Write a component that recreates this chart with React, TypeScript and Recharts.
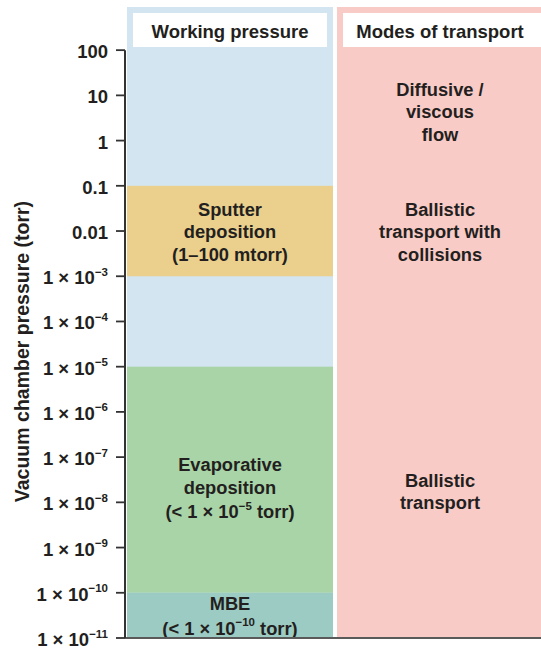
import React from 'react';
import { ComposedChart, Bar, XAxis, YAxis, ReferenceLine, ReferenceDot, Label } from 'recharts';

// ---------- data ----------
const columns = ['Working pressure', 'Modes of transport'];
const columnTop = 900; // torr, top edge of the two column backgrounds
const columnBottom = 1e-11;
const axisTop = 100;

const sputterRange = [1e-3, 0.1];
const evaporativeRange = [1e-10, 1e-5];
const mbeRange = [1e-11, 1e-10];

const sputterLines = ['Sputter', 'deposition', '(1–100 mtorr)'];
const evaporativeLines = ['Evaporative', 'deposition', '(< 1 × 10^−5^ torr)'];
const mbeLines = ['MBE', '(< 1 × 10^−10^ torr)'];

const modeLines = [
  ['Diffusive /', 'viscous', 'flow'],
  ['Ballistic', 'transport with', 'collisions'],
  ['Ballistic', 'transport'],
];
const modeLabelPressures = [4.5, 0.01, 1.8e-8];

const tickValues = [100, 10, 1, 0.1, 0.01, 1e-3, 1e-4, 1e-5, 1e-6, 1e-7, 1e-8, 1e-9, 1e-10, 1e-11];
const tickLabels = [
  '100', '10', '1', '0.1', '0.01',
  '1 × 10^−3', '1 × 10^−4', '1 × 10^−5', '1 × 10^−6', '1 × 10^−7',
  '1 × 10^−8', '1 × 10^−9', '1 × 10^−10', '1 × 10^−11',
];
const yAxisTitle = 'Vacuum chamber pressure (torr)';

const data = columns.map((col, i) => ({
  col,
  background: [columnBottom, columnTop],
  sputter: i === 0 ? sputterRange : null,
  evaporative: i === 0 ? evaporativeRange : null,
  mbe: i === 0 ? mbeRange : null,
}));

// ---------- styles ----------
const FONT = '"Liberation Sans", Arial, Helvetica, sans-serif';
const INK = '#231f20';
const FS = 18.3;
const LINE_H = 22.5;
const SUP_EXTRA = 2;
const columnFills: Record<string, string> = {
  'Working pressure': '#D3E5F1',
  'Modes of transport': '#F9CBC6',
};
const headerInsetRight: Record<string, number> = {
  'Working pressure': 6,
  'Modes of transport': 0,
};
const SPUTTER = '#EBCF8D';
const EVAP = '#A9D4A7';
const MBE = '#9CCBC3';

function RichText({ x, y, text, fontSize = FS, anchor = 'middle' }: any) {
  const parts = String(text).split('^');
  const supSize = 11.5;
  const shift = 5.5;
  const kids: any[] = [];
  let inSup = false;
  parts.forEach((p, i) => {
    const sup = i % 2 === 1;
    let dy = 0;
    if (sup && !inSup) dy = -shift;
    if (!sup && inSup) dy = shift;
    inSup = sup;
    if (p === '' && dy === 0) return;
    kids.push(
      <tspan key={i} fontSize={sup ? supSize : fontSize} dy={dy}>
        {p}
      </tspan>
    );
  });
  return (
    <text
      x={x}
      y={y}
      textAnchor={anchor}
      dominantBaseline="central"
      fontFamily={FONT}
      fontWeight="bold"
      fontSize={fontSize}
      fill={INK}
    >
      {kids}
    </text>
  );
}

function MultiLine({ cx, cy, lines }: any) {
  const offs: number[] = [];
  let acc = 0;
  lines.forEach((l: string, i: number) => {
    if (i > 0) acc += LINE_H + (l.includes('^') ? SUP_EXTRA : 0);
    offs.push(acc);
  });
  const mid = acc / 2;
  return (
    <g>
      {lines.map((l: string, i: number) => (
        <RichText key={i} x={cx} y={cy + offs[i] - mid} text={l} />
      ))}
    </g>
  );
}

function norm(props: any) {
  const { x, y, width, height } = props;
  const top = Math.min(y, y + height);
  const h = Math.abs(height);
  return { x, top, width, h };
}

const BackgroundShape = (props: any) => {
  const { x, top, width, h } = norm(props);
  if (!(h > 0) || !(width > 0)) return null;
  const name = props.payload?.col ?? columns[props.index ?? 0];
  const insetR = headerInsetRight[name] ?? 6;
  return (
    <g>
      <rect x={x} y={top} width={width} height={h} fill={columnFills[name]} />
      <rect x={x + 6} y={top + 6} width={width - 6 - insetR} height={34} fill="#ffffff" />
      <text
        x={x + width / 2}
        y={top + 24}
        textAnchor="middle"
        dominantBaseline="central"
        fontFamily={FONT}
        fontWeight="bold"
        fontSize={18.5}
        fill={INK}
      >
        {name}
      </text>
    </g>
  );
};

const makeBandShape = (fill: string, lines: string[], dy = 0) => (props: any) => {
  const { x, top, width, h } = norm(props);
  if (!(h > 0) || !(width > 0)) return null;
  return (
    <g>
      <rect x={x} y={top} width={width} height={h} fill={fill} />
      <MultiLine cx={x + width / 2} cy={top + h / 2 + dy} lines={lines} />
    </g>
  );
};

const SputterShape = makeBandShape(SPUTTER, sputterLines);
const EvapShape = makeBandShape(EVAP, evaporativeLines, 8);
const MbeShape = makeBandShape(MBE, mbeLines);

const YTick = (props: any) => {
  const { x, y, payload } = props;
  const idx = tickValues.indexOf(payload.value);
  const label = idx >= 0 ? tickLabels[idx] : String(payload.value);
  return <RichText x={x - 6} y={y + 1} text={label} fontSize={18.5} anchor="end" />;
};

const YTitle = (props: any) => {
  const vb = props.viewBox || {};
  const cx = (vb.x ?? 0) + 22;
  const cy = (vb.y ?? 0) + (vb.height ?? 0) * 0.546;
  return (
    <text
      x={cx}
      y={cy}
      transform={`rotate(-90 ${cx} ${cy})`}
      textAnchor="middle"
      dominantBaseline="central"
      fontFamily={FONT}
      fontWeight="bold"
      fontSize={19.5}
      fill={INK}
    >
      {yAxisTitle}
    </text>
  );
};

export default function App() {
  return (
    <div style={{ position: 'absolute', left: 0, top: 0, width: 541, height: 648, background: '#fff' }}>
      <ComposedChart
        width={541}
        height={648}
        data={data}
        margin={{ top: 7, right: -4, bottom: 10, left: 0 }}
        barCategoryGap={2}
      >
        <XAxis xAxisId="bg" dataKey="col" type="category" hide />
        <XAxis xAxisId="sp" dataKey="col" type="category" hide />
        <XAxis xAxisId="ev" dataKey="col" type="category" hide />
        <XAxis xAxisId="mb" dataKey="col" type="category" hide />
        <YAxis
          type="number"
          scale="log"
          domain={[columnBottom, columnTop]}
          ticks={tickValues}
          interval={0}
          allowDataOverflow
          width={125}
          axisLine={false}
          tickLine={{ stroke: '#333', strokeWidth: 1.8 }}
          tickSize={9}
          tick={<YTick />}
        >
          <Label content={<YTitle />} />
        </YAxis>
        <Bar xAxisId="bg" dataKey="background" shape={<BackgroundShape />} isAnimationActive={false} />
        <Bar xAxisId="sp" dataKey="sputter" shape={<SputterShape />} isAnimationActive={false} />
        <Bar xAxisId="ev" dataKey="evaporative" shape={<EvapShape />} isAnimationActive={false} />
        <Bar xAxisId="mb" dataKey="mbe" shape={<MbeShape />} isAnimationActive={false} />
        {modeLabelPressures.map((p, i) => (
          <ReferenceDot
            key={i}
            xAxisId="bg"
            x={columns[1]}
            y={p}
            r={1}
            shape={(sp: any) => <MultiLine cx={sp.cx} cy={sp.cy} lines={modeLines[i]} />}
          />
        ))}
        <ReferenceLine
          xAxisId="bg"
          y={columnBottom}
          stroke="#5a5a5a"
          strokeWidth={2}
        />
        <ReferenceLine
          xAxisId="bg"
          position="start"
          segment={[
            { x: columns[0], y: axisTop },
            { x: columns[0], y: columnBottom },
          ]}
          stroke="#333"
          strokeWidth={2}
        />
      </ComposedChart>
    </div>
  );
}
